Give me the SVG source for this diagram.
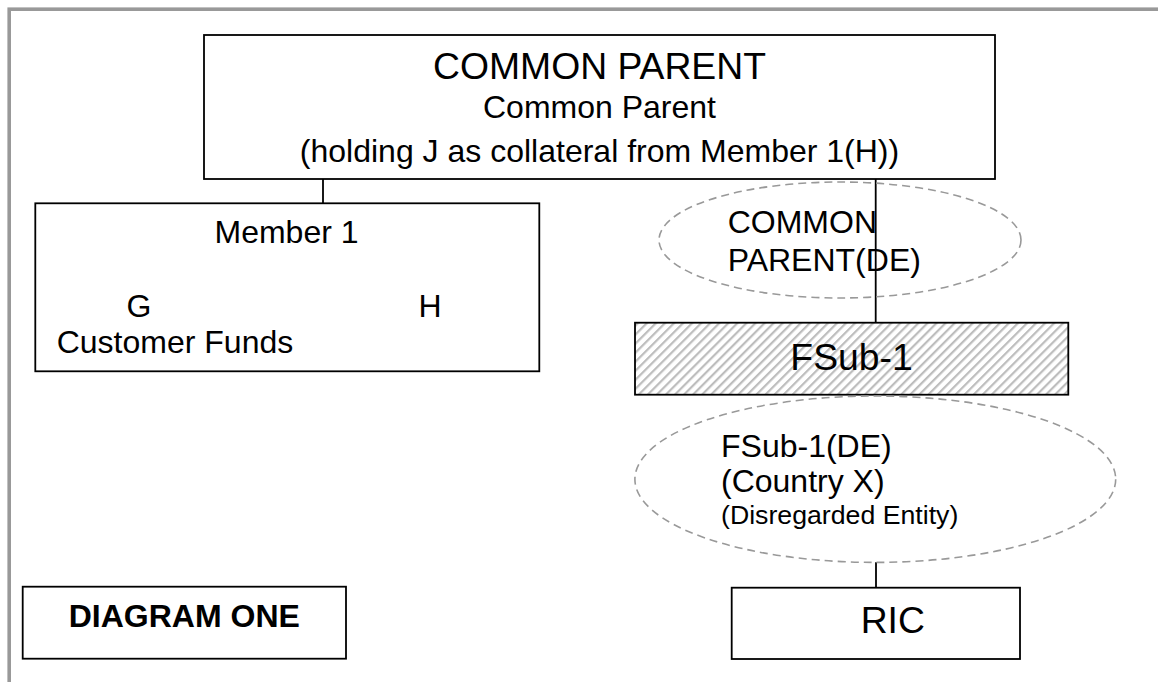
<svg xmlns="http://www.w3.org/2000/svg" width="1158" height="682" viewBox="0 0 1158 682">
  <style>
    .box { fill: #ffffff; stroke: #000000; stroke-width: 1.8; }
    .de { fill: none; stroke: #999999; stroke-width: 1.6; stroke-dasharray: 8 5; }
    .link { stroke: #000000; stroke-width: 1.8; fill: none; }
    text { font-family: "Liberation Sans", Arial, sans-serif; fill: #000000; }
    .big { font-size: 37.3px; }
    .mid { font-size: 32px; }
    .small { font-size: 26.7px; }
    .c { text-anchor: middle; }
  </style>
  <defs>
    <pattern id="hatch" patternUnits="userSpaceOnUse" width="6.4" height="6.4" patternTransform="rotate(45)">
      <rect x="0" y="0" width="6.4" height="6.4" fill="#ffffff"/>
      <rect x="0" y="0" width="2.2" height="6.4" fill="#bdbdbd"/>
    </pattern>
  </defs>

  <rect width="1158" height="682" fill="#ffffff"/>
  <!-- page frame -->
  <rect x="9.2" y="9.2" width="1170" height="700" fill="none" stroke="#999999" stroke-width="3.6"/>

  <!-- connectors -->
  <g id="connectors">
    <line class="link" x1="323" y1="179" x2="323" y2="203.3"/>
    <line class="link" x1="875.7" y1="179" x2="875.7" y2="322.7"/>
    <line class="link" x1="876" y1="562.3" x2="876" y2="587.7"/>
  </g>

  <g id="common-parent">
    <rect class="box" x="204" y="35" width="791" height="144"/>
    <text class="big c" x="599.5" y="79.3">COMMON PARENT</text>
    <text class="mid c" x="599.5" y="118.3">Common Parent</text>
    <text class="mid c" x="599.5" y="161.5">(holding J as collateral from Member 1(H))</text>
  </g>

  <g id="member-1">
    <rect class="box" x="35.3" y="203.3" width="504" height="168"/>
    <text class="mid c" x="286.5" y="243.3">Member 1</text>
    <text class="mid c" x="139" y="316.7">G</text>
    <text class="mid" x="56.7" y="353.3">Customer Funds</text>
    <text class="mid c" x="430" y="316.7">H</text>
  </g>

  <g id="common-parent-de">
    <ellipse class="de" cx="840" cy="240" rx="181" ry="58"/>
    <text class="mid" x="727.7" y="233.3">COMMON</text>
    <text class="mid" x="727.7" y="270.7">PARENT(DE)</text>
  </g>

  <g id="fsub-1">
    <rect class="box" x="635" y="322.7" width="433.3" height="72" fill="url(#hatch)" style="fill:url(#hatch)"/>
    <text class="big c" x="851.5" y="370">FSub-1</text>
  </g>

  <g id="fsub-1-de">
    <ellipse class="de" cx="875.3" cy="479.2" rx="240.4" ry="83.2"/>
    <text class="mid" x="721" y="456.7">FSub-1(DE)</text>
    <text class="mid" x="721" y="491.7">(Country X)</text>
    <text class="small" x="721" y="524.3">(Disregarded Entity)</text>
  </g>

  <g id="ric">
    <rect class="box" x="731.7" y="587.7" width="288.3" height="71.3"/>
    <text class="big" x="860.7" y="632.7">RIC</text>
  </g>

  <g id="diagram-one">
    <rect class="box" x="22.7" y="586.7" width="323.3" height="72"/>
    <text class="mid c" x="184.3" y="626.7" font-weight="bold">DIAGRAM ONE</text>
  </g>
</svg>
